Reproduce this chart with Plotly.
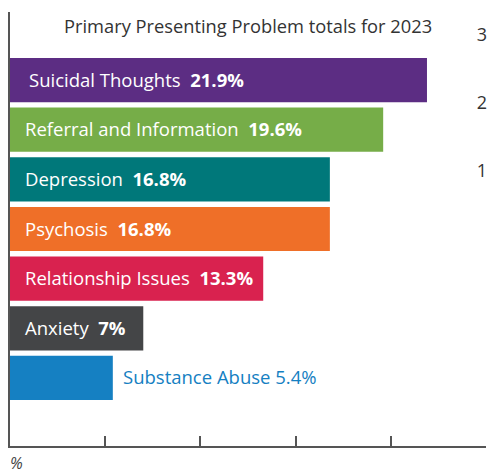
import plotly.graph_objects as go

categories = ["Suicidal Thoughts", "Referral and Information", "Depression", "Psychosis",
              "Relationship Issues", "Anxiety", "Substance Abuse"]
values = [21.9, 19.6, 16.8, 16.8, 13.3, 7.0, 5.4]
value_labels = ["21.9%", "19.6%", "16.8%", "16.8%", "13.3%", "7%", "5.4%"]
colors = ["#5c2d83", "#76ad48", "#00787a", "#ef6f28", "#d9224f", "#444547", "#1580c2"]
x_ticks = [0, 5, 10, 15, 20, 25]
right_ticks = [1, 2, 3]
title = "Primary Presenting Problem totals for 2023"

FONT = "Open Sans"
pos = list(range(len(categories)))

fig = go.Figure()
fig.add_trace(go.Bar(
    x=values, y=pos, orientation="h",
    marker=dict(color=colors, line=dict(width=0)),
    width=0.89, hoverinfo="skip", showlegend=False,
))
# invisible trace for the right axis
fig.add_trace(go.Scatter(x=[None], y=[None], yaxis="y2", showlegend=False))

annotations = []
for i, (c, v, lab) in enumerate(zip(categories, values, value_labels)):
    if v > 6:
        annotations.append(dict(
            x=0, y=i, xref="x", yref="y", xanchor="left", yanchor="middle",
            xshift=13 + (4 if i == 0 else 0), yshift=1, showarrow=False,
            text=f"{c}  <b>{lab}</b>",
            font=dict(family=FONT, size=18.5, color="white"),
        ))
    else:
        annotations.append(dict(
            x=v, y=i, xref="x", yref="y", xanchor="left", yanchor="middle",
            xshift=8, yshift=1, showarrow=False,
            text=f"{c} {lab}",
            font=dict(family=FONT, size=18.5, color=colors[i]),
        ))
annotations.append(dict(
    x=0.5, y=1, xref="paper", yref="paper", xanchor="center", yanchor="top",
    yshift=1, showarrow=False, text=title,
    font=dict(family=FONT, size=18.3, color="#333333"),
))
annotations.append(dict(
    x=0, y=0, xref="paper", yref="paper", xanchor="left", yanchor="top",
    yshift=-4, xshift=-2, showarrow=False, text="<i>%</i>",
    font=dict(family=FONT, size=16, color="#444444"),
))

fig.update_layout(
    width=487, height=474,
    margin=dict(l=10, r=1, t=12, b=28),
    paper_bgcolor="white", plot_bgcolor="white",
    font=dict(family=FONT, color="#333333"),
    xaxis=dict(range=[0, 25], tickvals=x_ticks, showticklabels=False,
               ticks="inside", ticklen=10, tickcolor="#555555", tickwidth=1.5,
               showline=True, linecolor="#555555", linewidth=1.5,
               showgrid=False, zeroline=False, fixedrange=True),
    yaxis=dict(range=[6 + 1.37, -1.37], showticklabels=False, ticks="",
               showline=True, linecolor="#555555", linewidth=1.5,
               showgrid=False, zeroline=False),
    yaxis2=dict(overlaying="y", side="right", range=[-3.044, 3.338],
                tickvals=right_ticks, ticklabelposition="inside",
                ticklabelstandoff=-4,
                tickfont=dict(family=FONT, size=18, color="#333333"),
                showline=False, showgrid=False, zeroline=False, ticks=""),
    annotations=annotations,
)

fig.write_html(
    "out.html",
    config={"displayModeBar": False},
    post_script="document.body.style.margin='0';document.body.style.overflow='hidden';",
)
